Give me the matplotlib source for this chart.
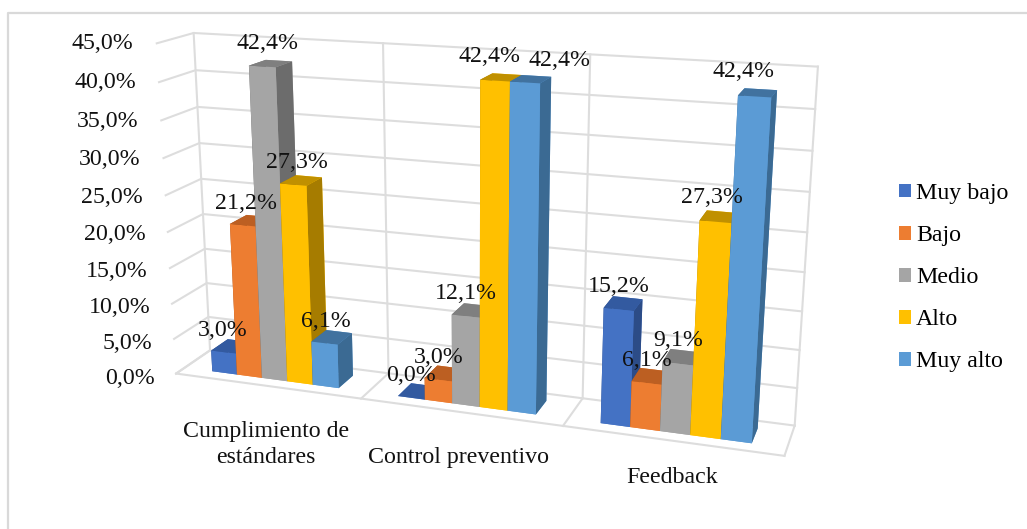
import matplotlib
matplotlib.use('Agg')
import matplotlib.pyplot as plt
from matplotlib.lines import Line2D
from matplotlib.patches import Patch
from matplotlib.transforms import IdentityTransform

plt.rcParams['font.family'] = ['Liberation Serif', 'DejaVu Serif']

categories = ['Cumplimiento de\nestándares', 'Control preventivo', 'Feedback']
series = ['Muy bajo', 'Bajo', 'Medio', 'Alto', 'Muy alto']
muy_bajo = [3.0, 0.0, 15.2]
bajo = [21.2, 3.0, 6.1]
medio = [42.4, 12.1, 9.1]
alto = [27.3, 42.4, 27.3]
muy_alto = [6.1, 42.4, 42.4]
z_ticks = [0, 5, 10, 15, 20, 25, 30, 35, 40, 45]

values = [muy_bajo, bajo, medio, alto, muy_alto]
colors = ['#4472C4', '#ED7D31', '#A5A5A5', '#FFC000', '#5B9BD5']
tops = ['#335AA0', '#BC5F22', '#7F7F7F', '#C09000', '#41729F']
sides = ['#2C4C87', '#A4501C', '#6C6C6C', '#A67C00', '#3B6A93']

W, H = 1027, 529
FS = 17.2
GRID = '#DDDDDD'

fig = plt.figure(figsize=(W / 100, H / 100), dpi=100)
# chart frame is cropped, only top and left remain
fig.add_artist(Line2D([8, 8, 1026], [0, H - 12.5, H - 12.5], transform=IdentityTransform(),
                      color='#D9D9D9', lw=1.6))

S = 1100
cx, cy = 457, 529 - 247
ax = fig.add_axes([(cx - S / 2) / W, (cy - S / 2) / H, S / W, S / H], projection='3d')
ax.set_axis_off()
ax.patch.set_alpha(0)
ax.computed_zorder = False

# walls
for z in z_ticks:
    ax.plot([0, 0, 3], [0, 1, 1], [z, z, z], color=GRID, lw=1.5, zorder=1)
for x in range(4):
    ax.plot([x, x], [1, 1], [0, 45], color=GRID, lw=1.5, zorder=1)
    ax.plot([x, x], [0, 1], [0, 0], color=GRID, lw=1.5, zorder=1)
ax.plot([0, 3], [0, 0], [0, 0], color=GRID, lw=1.5, zorder=1)

bar_w = 0.138
y0, y1 = 0.25, 0.75
# labels moved by hand in the original chart
nudge = {(4, 1): 0.155, (4, 2): -0.05, (3, 2): -0.02, (3, 1): -0.025,
         (2, 0): 0.03, (3, 0): 0.02, (1, 0): 0.02, (4, 0): 0.01}
z_order = 2
for c in range(len(categories)):
    start = c + 0.5 - 2.5 * bar_w
    for s in range(len(series)):
        v = values[s][c]
        face = [colors[s], tops[s], colors[s], colors[s], sides[s], sides[s]]
        ax.bar3d(start + s * bar_w, y0, 0, bar_w, y1 - y0, v, color=face,
                 shade=False, linewidth=0, zorder=z_order)
        z_order += 1
        ax.text(start + (s + 0.5) * bar_w + nudge.get((s, c), 0), y0, v + 1.6,
                f'{v:.1f}%'.replace('.', ','), ha='center', va='bottom',
                fontsize=FS, color='#111111', zorder=100)

for z in z_ticks:
    ax.text(-0.125, 0, z * 1.02 - 1.1, f'{z:.1f}%'.replace('.', ','), ha='right', va='center',
            fontsize=FS, color='#111111', zorder=100)

label_x = [0.49, 1.495, 2.51]
label_z = [-5.1, -4.9, -3.4]
for c, label in enumerate(categories):
    ax.text(label_x[c], 0, label_z[c], label, ha='center', va='top', fontsize=FS,
            color='#111111', zorder=100, linespacing=1.3)

ax.set_xlim(0, 3, view_margin=0)
ax.set_ylim(0, 1, view_margin=0)
ax.set_zlim(0, 45, view_margin=0)
ax.set_box_aspect((646, 75, 356), zoom=0.657)
ax.set_proj_type('persp', focal_length=0.25)
ax.view_init(elev=16, azim=-71)

handles = [Patch(facecolor=col, label=lab) for col, lab in zip(colors, series)]
fig.legend(handles=handles, loc='upper left', bbox_to_anchor=(899 / W, 1 - 183 / H),
           frameon=False, fontsize=FS, handlelength=0.52, handleheight=0.52,
           handletextpad=0.2, labelspacing=0.88, borderpad=0, borderaxespad=0)

fig.savefig('out.png', dpi=100)
